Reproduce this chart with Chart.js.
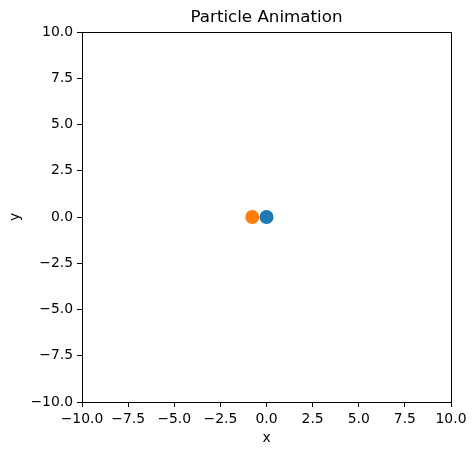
<!DOCTYPE html>
<html>
<head>
<meta charset="utf-8">
<script src="https://cdn.jsdelivr.net/npm/chart.js@4/dist/chart.umd.min.js"></script>
<style>
  html, body { margin: 0; padding: 0; background: #fff; }
  #wrap { width: 476px; height: 455px; }
</style>
</head>
<body>
<div id="wrap"><canvas id="grafica" width="476" height="455"></canvas></div>
<script>
// data
const particleNames  = ["particle 1", "particle 2"];
const particleX      = [0.0, -0.77];
const particleY      = [0.0, 0.0];
const particleColors = ["#1f77b4", "#ff7f0e"];
const tickValues     = [-10, -7.5, -5, -2.5, 0, 2.5, 5, 7.5, 10];
const axisMin = -10, axisMax = 10;

const FONT = "'DejaVu Sans', sans-serif";

// marco completo + título centrado sobre el área del gráfico
const framePlugin = {
  id: "frame",
  afterDraw(chart) {
    const { ctx, chartArea: a } = chart;
    ctx.save();
    ctx.strokeStyle = "#000";
    ctx.lineWidth = 1;
    ctx.strokeRect(Math.round(a.left) + 0.5, Math.round(a.top) + 0.5,
                   Math.round(a.right - a.left), Math.round(a.bottom - a.top));
    ctx.fillStyle = "#000";
    ctx.font = "16.7px " + FONT;
    ctx.textAlign = "center";
    ctx.textBaseline = "middle";
    ctx.fillText("Particle Animation", (a.left + a.right) / 2, 18);
    ctx.restore();
  }
};

const fmt = v => {
  const s = Number(v).toFixed(1);
  return s.startsWith("-") ? "\u2212" + s.slice(1) : s;
};

const axisCommon = {
  type: "linear",
  min: axisMin,
  max: axisMax,
  afterBuildTicks: axis => { axis.ticks = tickValues.map(v => ({ value: v })); },
  grid: { drawOnChartArea: false, drawTicks: true, tickLength: 5, color: "#000", lineWidth: 1 },
  border: { display: true, color: "#000", width: 1 },
  ticks: { color: "#000", font: { family: FONT, size: 13.9 }, padding: 4, callback: v => fmt(v), maxRotation: 0, autoSkip: false }
};

new Chart(document.getElementById("grafica"), {
  type: "scatter",
  data: {
    datasets: particleNames.map((n, i) => ({
      label: n,
      data: [{ x: particleX[i], y: particleY[i] }],
      backgroundColor: particleColors[i],
      borderColor: particleColors[i],
      pointRadius: 7,
      pointHoverRadius: 7,
      borderWidth: 0
    }))
  },
  options: {
    responsive: false,
    animation: false,
    devicePixelRatio: 1,
    layout: { padding: { top: 32, right: 25, left: 0, bottom: 0 } },
    plugins: {
      legend: { display: false },
      title: { display: false },
      tooltip: { enabled: false }
    },
    scales: {
      x: {
        ...axisCommon,
        position: "bottom",
        afterFit: s => { s.height = 53; },
        title: { display: true, text: "x", color: "#000", font: { family: FONT, size: 13.9 }, padding: { top: 0, bottom: 8 } }
      },
      y: {
        ...axisCommon,
        position: "left",
        afterFit: s => { s.width = 82; },
        title: { display: true, text: "y", color: "#000", font: { family: FONT, size: 13.9 }, padding: { top: 7, bottom: 0 } }
      }
    }
  },
  plugins: [framePlugin]
});
</script>
</body>
</html>
